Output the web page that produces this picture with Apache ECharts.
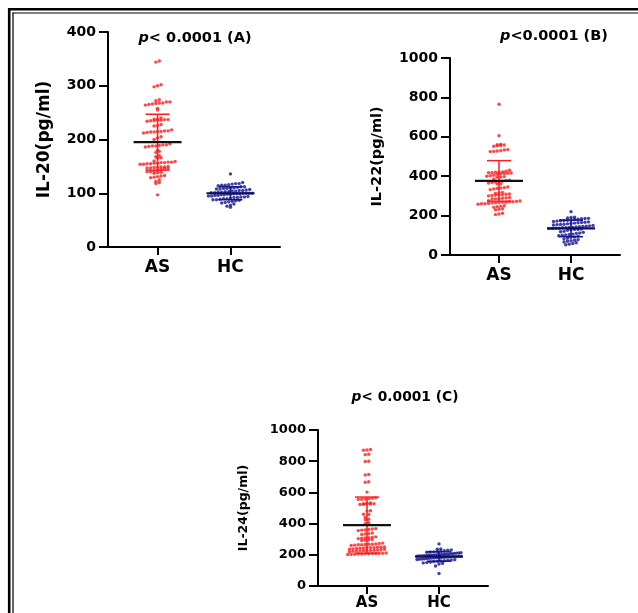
<!DOCTYPE html>
<html>
<head>
<meta charset="utf-8">
<script src="https://cdn.jsdelivr.net/npm/echarts@6/dist/echarts.min.js"></script>
<style>html,body{margin:0;padding:0;background:#fff;}#c{width:638px;height:613px;}</style>
</head>
<body>
<div id="c"></div>
<script>
// ---------- data ----------
const categories = ['AS', 'HC'];

const il20AS = [346,344, 302,300,298,
  274,272,270,270,268,268,267,266,265,264, 258,255,
  240,238,238,237,237,236,236,235,235,234, 228,226,225,
  218,216,216,215,215,214,214,213,212, 205,203,200,
  192,190,190,189,188,188,187,186, 180,178,176, 170,168,166,165,
  160,159,158,158,157,157,156,156,155,155,154,154,
  150,149,149,148,148,147,147,146,146,145,
  142,141,140,140,139,138,137, 133,132,131,130,129, 125,122,120,118, 97];
const il20HC = [136,
  120,118,118,117,116,115,115,114,
  112,112,111,110,110,109,109,108,108,107,
  106,105,105,104,104,103,103,102,102,101,101,100,100,100,100,99,99,99,98,98,97,97,96,96,95,95,
  94,93,93,92,92,91,90,90,89,88,88,87,86,85,
  84,83,82,80,78,76,74];

const il22AS = [765, 605,
  562,560,558,556,555,552, 535,533,530,528,526,525,
  430,425,422,420,420,418,418,416,415,414,412,410,
  405,402,400,398,396,395,
  385,380,378,375,372,370,368,365,362,360,
  345,342,340,338,335,332,
  318,315,312,310,308,306,305,304,302,300,
  292,290,288,286,285,284,
  276,274,272,270,270,268,268,266,265,264,262,260,260,258,
  250,248,245,242, 235,232,230, 212,208,205];
const il22HC = [220,
  192,190,188,186,185,184,182,180,
  178,176,175,174,172,170,168,166,165,164,162,160,
  158,156,155,154,152,150,148,146,145,144,142,140,140,138,138,136,136,135,134,132,130,130,128,126,
  120,118,115,112,110,106,104,102,100,98,95,92,90,
  85,82,78,75,72,70,66,62,58,55,52];

const il24AS = [875,872,870, 845,842, 800,798, 715,712, 668,665, 602,
  565,562,560,558,556,555, 532,530,528,527,526,525,524,522,
  482,480, 460,458, 440,428,425, 405,400,
  368,365,362,360,358,355, 340,336,334,330,
  315,312,310,308,306,304, 298,296,294,292,
  275,272,270,268,268,266,265,264,262,260,
  250,248,248,246,246,245,244,242,240,238,236,235,
  232,230,229,228,227,226,225,224,222,220,
  212,210,210,208,208,207,206,205,205,204,203,202];
const il24HC = [270, 238,236,231,229,
  226,224,221,219,218,216,213,212,211,209,207,206,204,203,203,201,200,199,198,197,197,195,194,193,192,
  191,190,190,188,188,187,186,185,184,183,182,181,180,179,178,176,175,173,172,170,168,167,164,162,160,
  158,156,153,150,148,145,141, 128, 80];

// group mean and SD (AS, HC)
const il20Mean = [195, 100];
const il20SD = [52, 12];
const il22Mean = [376, 135];
const il22SD = [103, 42];
const il24Mean = [390, 189];
const il24SD = [180, 30];

// y-axis scales: [min, max, interval]
const il20Axis = [0, 400, 100];
const il22Axis = [0, 1000, 200];
const il24Axis = [0, 1000, 200];

const yNames = ['IL-20(pg/ml)', 'IL-22(pg/ml)', 'IL-24(pg/ml)'];
const titleRest = ['< 0.0001 (A)', '<0.0001 (B)', '< 0.0001 (C)'];

// ---------- layout / style ----------
const RED = '#ff1c1c';
const NAVY = '#12128a';
const FONT = 'DejaVu Sans';

const panels = [
  {grid:{left:108, top:32, width:172, height:215}, axis:il20Axis, as:il20AS, hc:il20HC, mean:il20Mean, sd:il20SD,
   tick:14, xl:17, xm:12, name:17, nameGap:55, title:{x:190, y:26, size:14.5}},
  {grid:{left:450, top:58, width:170, height:197}, axis:il22Axis, as:il22AS, hc:il22HC, mean:il22Mean, sd:il22SD,
   tick:14, xl:17, xm:12, name:14.5, nameGap:65, title:{x:549, y:24, size:14.5}},
  {grid:{left:318, top:430, width:170, height:156}, axis:il24Axis, as:il24AS, hc:il24HC, mean:il24Mean, sd:il24SD,
   tick:13, xl:15, xm:10, name:12.5, nameGap:68, title:{x:400, y:385, size:13.8}}
];
const XMIN = 0.32, XMAX = 2.68;

// row-binned dot layout (GraphPad style): points in the same pixel row are spread side by side
function swarm(values, center, pxPerY, pxPerX, d, maxW) {
  const bins = new Map();
  values.slice().sort((a, b) => a - b).forEach(v => {
    const k = Math.round(v * pxPerY / d);
    if (!bins.has(k)) bins.set(k, []);
    bins.get(k).push(v);
  });
  const out = [];
  bins.forEach(list => {
    const n = list.length;
    const sp = n > 1 ? Math.min(d, maxW / (n - 1)) : 0;
    list.forEach((v, j) => {
      const off = (j - (n - 1) / 2) * sp;
      out.push([center + off / pxPerX, v]);
    });
  });
  return out;
}

const grids = [], xAxes = [], yAxes = [], series = [], titles = [];
panels.forEach((p, i) => {
  grids.push(p.grid);
  const pxPerY = p.grid.height / (p.axis[1] - p.axis[0]);
  const pxPerX = p.grid.width / (XMAX - XMIN);
  xAxes.push({
    type: 'value', gridIndex: i, min: XMIN, max: XMAX,
    axisLine: {show: true, onZero: false, lineStyle: {color: '#000', width: 2}},
    axisTick: {show: true, customValues: [1, 2], length: 8, lineStyle: {color: '#000', width: 2}},
    axisLabel: {customValues: [1, 2], formatter: v => categories[Math.round(v) - 1] || '',
      color: '#000', fontFamily: FONT, fontWeight: 'bold', fontSize: p.xl, margin: p.xm},
    splitLine: {show: false}
  });
  yAxes.push({
    type: 'value', gridIndex: i, min: p.axis[0], max: p.axis[1], interval: p.axis[2],
    name: yNames[i], nameLocation: 'middle', nameRotate: 90, nameGap: p.nameGap, nameMoveOverlap: false,
    nameTextStyle: {color: '#000', fontFamily: FONT, fontWeight: 'bold', fontSize: p.name},
    axisLine: {show: true, lineStyle: {color: '#000', width: 2}},
    axisTick: {show: true, length: 9, lineStyle: {color: '#000', width: 2}},
    axisLabel: {color: '#000', fontFamily: FONT, fontWeight: 'bold', fontSize: p.tick, margin: 12,
      formatter: v => String(v)},
    splitLine: {show: false}
  });
  series.push({
    type: 'scatter', xAxisIndex: i, yAxisIndex: i, symbol: 'circle', symbolSize: 3.4,
    itemStyle: {color: RED}, silent: true, z: 2,
    data: swarm(p.as, 1, pxPerY, pxPerX, 3.5, 44)
  });
  series.push({
    type: 'scatter', xAxisIndex: i, yAxisIndex: i, symbol: 'circle', symbolSize: 3.4,
    itemStyle: {color: NAVY}, silent: true, z: 2,
    data: swarm(p.hc, 2, pxPerY, pxPerX, 3.5, 44)
  });
  series.push({
    type: 'custom', xAxisIndex: i, yAxisIndex: i, z: 5, silent: true,
    data: [[1, p.mean[0], p.sd[0], 0], [2, p.mean[1], p.sd[1], 1]],
    renderItem: function (params, api) {
      const x = api.value(0), m = api.value(1), s = api.value(2), g = api.value(3);
      const c = api.coord([x, m]);
      const t = api.coord([x, m + s]);
      const b = api.coord([x, m - s]);
      const barCol = g === 0 ? RED : NAVY;
      const meanCol = g === 0 ? '#111111' : '#0c0c5e';
      const cap = 12, half = 24;
      return {
        type: 'group',
        children: [
          {type: 'line', shape: {x1: c[0], y1: t[1], x2: c[0], y2: b[1]}, style: {stroke: barCol, lineWidth: 1.5}},
          {type: 'line', shape: {x1: c[0] - cap, y1: t[1], x2: c[0] + cap, y2: t[1]}, style: {stroke: barCol, lineWidth: 1.5}},
          {type: 'line', shape: {x1: c[0] - cap, y1: b[1], x2: c[0] + cap, y2: b[1]}, style: {stroke: barCol, lineWidth: 1.5}},
          {type: 'line', shape: {x1: c[0] - half, y1: c[1], x2: c[0] + half, y2: c[1]}, style: {stroke: meanCol, lineWidth: 2.2}}
        ]
      };
    }
  });
  titles.push({
    text: '{i|p}{b|' + titleRest[i] + '}',
    left: p.title.x, top: p.title.y, textAlign: 'center',
    textStyle: {
      rich: {
        i: {fontFamily: FONT, fontStyle: 'italic', fontWeight: 'bold', fontSize: p.title.size, color: '#000'},
        b: {fontFamily: FONT, fontWeight: 'bold', fontSize: p.title.size, color: '#000'}
      }
    }
  });
});

const chart = echarts.init(document.getElementById('c'), null, {renderer: 'canvas'});
chart.setOption({
  animation: false,
  backgroundColor: '#fff',
  title: titles,
  grid: grids,
  xAxis: xAxes,
  yAxis: yAxes,
  series: series,
  graphic: [
    {type: 'line', shape: {x1: 9.2, y1: 8, x2: 9.2, y2: 613}, style: {stroke: '#000', lineWidth: 2.6}},
    {type: 'line', shape: {x1: 8, y1: 9.2, x2: 638, y2: 9.2}, style: {stroke: '#000', lineWidth: 2.6}},
    {type: 'line', shape: {x1: 13, y1: 12.5, x2: 13, y2: 613}, style: {stroke: '#000', lineWidth: 1.2}},
    {type: 'line', shape: {x1: 12.5, y1: 13, x2: 638, y2: 13}, style: {stroke: '#000', lineWidth: 1.2}}
  ]
});
</script>
</body>
</html>
